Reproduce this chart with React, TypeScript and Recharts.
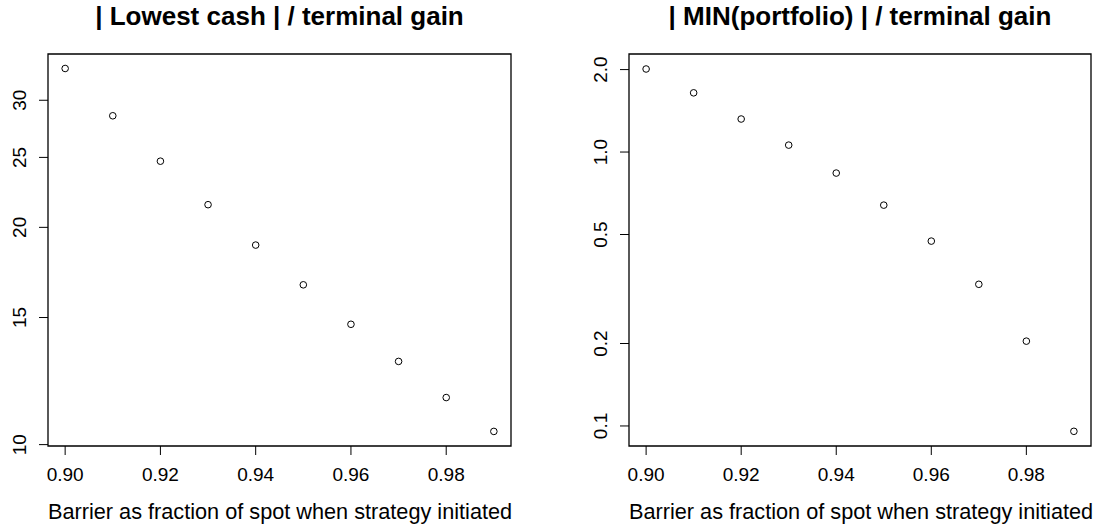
import { ReferenceArea, Scatter, ScatterChart, XAxis, YAxis } from "recharts";

const barrier = [0.9, 0.91, 0.92, 0.93, 0.94, 0.95, 0.96, 0.97, 0.98, 0.99];
const lowestCash = [33.2, 28.55, 24.7, 21.5, 18.9, 16.65, 14.68, 13.04, 11.62, 10.43];
const minPortfolio = [2.01, 1.645, 1.32, 1.06, 0.838, 0.64, 0.473, 0.329, 0.204, 0.0956];

const xTicks = [0.9, 0.92, 0.94, 0.96, 0.98];
const cashTicks = [10, 15, 20, 25, 30];
const portTicks = [0.1, 0.2, 0.5, 1, 2];
const portTickLabels = ["0.1", "0.2", "0.5", "1.0", "2.0"];

const xLabel = "Barrier as fraction of spot when strategy initiated";
const leftTitle = "| Lowest cash | / terminal gain";
const rightTitle = "| MIN(portfolio) | / terminal gain";

const font = "'Liberation Sans', Arial, sans-serif";
const xDomain: [number, number] = [0.8964, 0.9936];

const cashRows = barrier.map((b, i) => ({ x: b, y: lowestCash[i] }));
const portRows = barrier.map((b, i) => ({ x: b, y: minPortfolio[i] }));

function OpenDot(props: any) {
  const { cx, cy } = props;
  if (cx == null || cy == null) return null;
  return <circle cx={cx} cy={cy} r={3.3} fill="none" stroke="#000" strokeWidth={1} />;
}

function RotTick(props: any) {
  const { x, y, payload, labels, values } = props;
  let txt = String(payload.value);
  if (labels) {
    const idx = values.findIndex((v: number) => Math.abs(v - payload.value) < 1e-9);
    if (idx >= 0) txt = labels[idx];
  }
  return (
    <text
      x={x}
      y={y}
      transform={`rotate(-90, ${x}, ${y})`}
      textAnchor="middle"
      fill="#000"
      fontSize={19}
      fontFamily={font}
    >
      {txt}
    </text>
  );
}

function Panel({
  left,
  yAxisWidth,
  marginRight,
  rows,
  yDomain,
  yTicks,
  yLabels,
}: {
  left: number;
  yAxisWidth: number;
  marginRight: number;
  rows: { x: number; y: number }[];
  yDomain: [number, number];
  yTicks: number[];
  yLabels?: string[];
}) {
  return (
    <div style={{ position: "absolute", left, top: 0 }}>
      <ScatterChart
        width={548}
        height={528}
        margin={{ top: 54, right: marginRight, bottom: 0, left: 0 }}
      >
        <XAxis
          type="number"
          dataKey="x"
          domain={xDomain}
          ticks={xTicks}
          allowDataOverflow
          height={82}
          axisLine={false}
          tickLine={{ stroke: "#000" }}
          tickSize={9}
          tickMargin={13}
          tick={{ fill: "#000", fontSize: 19, fontFamily: font }}
          tickFormatter={(v: number) => v.toFixed(2)}
          interval={0}
        />
        <YAxis
          type="number"
          dataKey="y"
          scale="log"
          domain={yDomain}
          ticks={yTicks}
          allowDataOverflow
          width={yAxisWidth}
          axisLine={false}
          tickLine={{ stroke: "#000" }}
          tickSize={9}
          tickMargin={13}
          interval={0}
          tick={<RotTick labels={yLabels} values={yTicks} />}
        />
        <ReferenceArea
          x1={xDomain[0]}
          x2={xDomain[1]}
          y1={yDomain[0]}
          y2={yDomain[1]}
          fill="none"
          stroke="#000"
          strokeWidth={1.3}
          ifOverflow="visible"
        />
        <Scatter data={rows} shape={<OpenDot />} isAnimationActive={false} />
      </ScatterChart>
    </div>
  );
}

const titleStyle = {
  position: "absolute" as const,
  top: 3,
  fontSize: 26,
  lineHeight: "26px",
  fontWeight: 700,
  fontFamily: font,
  textAlign: "center" as const,
  color: "#000",
  whiteSpace: "nowrap" as const,
};

const xLabelStyle = {
  position: "absolute" as const,
  top: 501,
  fontSize: 21.7,
  lineHeight: "21.7px",
  fontFamily: font,
  textAlign: "center" as const,
  color: "#000",
  whiteSpace: "nowrap" as const,
};

export default function App() {
  return (
    <div
      style={{
        position: "absolute",
        left: 0,
        top: 0,
        width: 1096,
        height: 528,
        background: "#fff",
        overflow: "hidden",
      }}
    >
      <Panel
        left={0}
        yAxisWidth={48}
        marginRight={37}
        rows={cashRows}
        yDomain={[9.956, 34.77]}
        yTicks={cashTicks}
      />
      <Panel
        left={548}
        yAxisWidth={81}
        marginRight={5}
        rows={portRows}
        yDomain={[0.0845, 2.28]}
        yTicks={portTicks}
        yLabels={portTickLabels}
      />
      <div style={{ ...titleStyle, left: 48, width: 463 }}>{leftTitle}</div>
      <div style={{ ...titleStyle, left: 629, width: 462 }}>{rightTitle}</div>
      <div style={{ ...xLabelStyle, left: 48, width: 463 }}>{xLabel}</div>
      <div style={{ ...xLabelStyle, left: 629, width: 462 }}>{xLabel}</div>
    </div>
  );
}
